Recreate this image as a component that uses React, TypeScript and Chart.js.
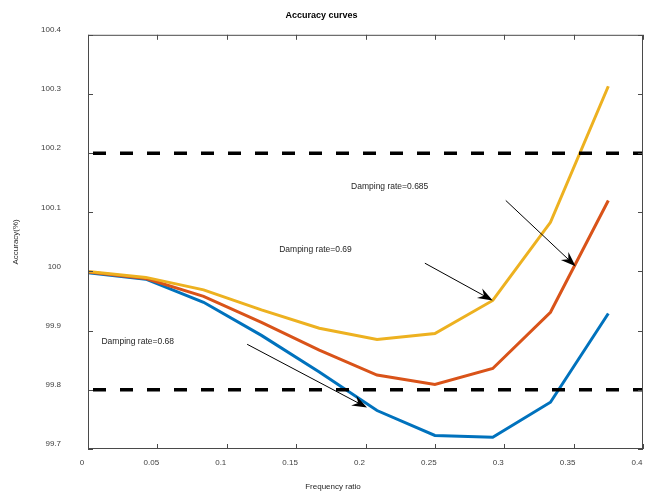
import { useEffect, useRef } from 'react';
import { Chart, registerables } from 'chart.js';

Chart.register(...registerables);

// ---- data ----
const freqRatio = [0, 0.0417, 0.0833, 0.125, 0.1667, 0.2083, 0.25, 0.2917, 0.3333, 0.375];
const accDamp068 = [99.998, 99.987, 99.948, 99.892, 99.83, 99.765, 99.723, 99.72, 99.779, 99.929];
const accDamp0685 = [99.999, 99.988, 99.958, 99.914, 99.867, 99.825, 99.809, 99.836, 99.931, 100.12];
const accDamp069 = [100.0, 99.99, 99.969, 99.935, 99.904, 99.885, 99.895, 99.951, 100.083, 100.313];
const limitValues = [99.8, 100.2];
const limitXRange = [0, 0.4];

const annotationTexts = ['Damping rate=0.685', 'Damping rate=0.69', 'Damping rate=0.68'];
const annotationTextX = [0.1896, 0.1378, 0.0097];
const annotationTextY = [100.144, 100.037, 99.882];
const arrowStartX = [0.3011, 0.2428, 0.1147];
const arrowStartY = [100.12, 100.014, 99.877];
const arrowEndX = [0.3514, 0.2917, 0.2011];
const arrowEndY = [100.009, 99.951, 99.77];

const titleText = 'Accuracy curves';
const xTitle = 'Frequency ratio';
const yTitle = 'Accuracy(%)';

const FONT = '"Liberation Sans", Arial, Helvetica, sans-serif';

const fmt = (v: any) => String(Math.round(Number(v) * 1000) / 1000);

const decorPlugin = {
  id: 'decor',
  afterDraw(chart: any) {
    const { ctx, chartArea: a, scales } = chart;
    const x = scales.x;
    const y = scales.y;
    ctx.save();
    // frame
    ctx.strokeStyle = '#4a4a4a';
    ctx.lineWidth = 1;
    ctx.strokeRect(a.left + 0.5, a.top + 0.5, a.right - a.left - 1, a.bottom - a.top - 1);
    // inward ticks
    ctx.beginPath();
    x.ticks.forEach((t: any) => {
      const px = Math.round(x.getPixelForValue(t.value)) + 0.5;
      ctx.moveTo(px, a.bottom);
      ctx.lineTo(px, a.bottom - 5);
      ctx.moveTo(px, a.top);
      ctx.lineTo(px, a.top + 5);
    });
    y.ticks.forEach((t: any) => {
      const py = Math.round(y.getPixelForValue(t.value)) + 0.5;
      ctx.moveTo(a.left, py);
      ctx.lineTo(a.left + 5, py);
      ctx.moveTo(a.right, py);
      ctx.lineTo(a.right - 5, py);
    });
    ctx.stroke();

    // annotation texts
    ctx.fillStyle = '#262626';
    ctx.font = '8.5px ' + FONT;
    ctx.textBaseline = 'middle';
    ctx.textAlign = 'left';
    annotationTexts.forEach((s, i) => {
      ctx.fillText(s, x.getPixelForValue(annotationTextX[i]), y.getPixelForValue(annotationTextY[i]));
    });

    // arrows
    arrowStartX.forEach((_, i) => {
      const x0 = x.getPixelForValue(arrowStartX[i]);
      const y0 = y.getPixelForValue(arrowStartY[i]);
      const x1 = x.getPixelForValue(arrowEndX[i]);
      const y1 = y.getPixelForValue(arrowEndY[i]);
      const ang = Math.atan2(y1 - y0, x1 - x0);
      const L = 15;
      const W = 11;
      const N = 10;
      const c = Math.cos(ang);
      const s = Math.sin(ang);
      const pt = (back: number, side: number) => [x1 - back * c - side * s, y1 - back * s + side * c];
      ctx.strokeStyle = '#000';
      ctx.lineWidth = 1;
      ctx.beginPath();
      ctx.moveTo(x0, y0);
      const n = pt(N, 0);
      ctx.lineTo(n[0], n[1]);
      ctx.stroke();
      ctx.fillStyle = '#000';
      ctx.beginPath();
      ctx.moveTo(x1, y1);
      const p1 = pt(L, W / 2);
      const p2 = pt(N, 0);
      const p3 = pt(L, -W / 2);
      ctx.lineTo(p1[0], p1[1]);
      ctx.lineTo(p2[0], p2[1]);
      ctx.lineTo(p3[0], p3[1]);
      ctx.closePath();
      ctx.fill();
    });

    // x axis title
    ctx.fillStyle = '#262626';
    ctx.font = '8px ' + FONT;
    ctx.textAlign = 'center';
    ctx.textBaseline = 'middle';
    ctx.fillText(xTitle, 333, 487);
    ctx.restore();
  },
};

export default function App() {
  const ref = useRef<HTMLCanvasElement>(null);
  useEffect(() => {
    if (!ref.current) return;
    const mk = (ys: number[]) => freqRatio.map((v, i) => ({ x: v, y: ys[i] }));
    const limitDs = limitValues.map((v) => ({
      data: limitXRange.map((xv) => ({ x: xv, y: v })),
      borderColor: '#000',
      borderWidth: 3.5,
      borderDash: [13, 14],
      borderDashOffset: 22,
      pointRadius: 0,
      fill: false,
    }));
    const chart = new Chart(ref.current, {
      type: 'line',
      data: {
        datasets: [
          ...limitDs,
          { data: mk(accDamp069), borderColor: '#EDB120', borderWidth: 3, pointRadius: 0, fill: false },
          { data: mk(accDamp0685), borderColor: '#D95319', borderWidth: 3, pointRadius: 0, fill: false },
          { data: mk(accDamp068), borderColor: '#0072BD', borderWidth: 3, pointRadius: 0, fill: false },
        ] as any,
      },
      options: {
        animation: false,
        responsive: false,
        devicePixelRatio: 1,
        layout: { padding: { left: 0, right: 2, top: 0, bottom: 0 } },
        plugins: {
          legend: { display: false },
          tooltip: { enabled: false },
          title: {
            display: true,
            text: titleText,
            color: '#000',
            font: { family: FONT, size: 9, weight: 'bold' },
            padding: { top: 10, bottom: 14 },
          },
        },
        elements: { line: { tension: 0, borderJoinStyle: 'miter' } },
        scales: {
          x: {
            type: 'linear',
            min: 0,
            max: 0.4,
            ticks: {
              stepSize: 0.05,
              color: '#404040',
              font: { family: FONT, size: 8 },
              padding: 9,
              labelOffset: -6,
              maxRotation: 0,
              autoSkip: false,
              callback: fmt,
            },
            grid: { display: false, drawTicks: false },
            border: { display: false },
            afterFit: (s: any) => {
              s.height = 42;
              s.paddingLeft = 0;
              s.paddingRight = 0;
            },
          },
          y: {
            type: 'linear',
            min: 99.7,
            max: 100.4,
            ticks: {
              stepSize: 0.1,
              color: '#404040',
              font: { family: FONT, size: 8 },
              padding: 27,
              labelOffset: -5,
              autoSkip: false,
              callback: fmt,
            },
            grid: { display: false, drawTicks: false },
            border: { display: false },
            title: {
              display: true,
              text: yTitle,
              color: '#262626',
              font: { family: FONT, size: 8 },
              padding: { top: 11, bottom: 0 },
            },
            afterFit: (s: any) => {
              s.width = 88;
              s.paddingTop = 0;
              s.paddingBottom = 0;
            },
          },
        },
      },
      plugins: [decorPlugin],
    } as any);
    return () => chart.destroy();
  }, []);
  return (
    <div style={{ position: 'fixed', left: 0, top: 0, width: 645, height: 491, background: '#fff' }}>
      <canvas ref={ref} width={645} height={491} style={{ width: 645, height: 491, display: 'block' }} />
    </div>
  );
}
